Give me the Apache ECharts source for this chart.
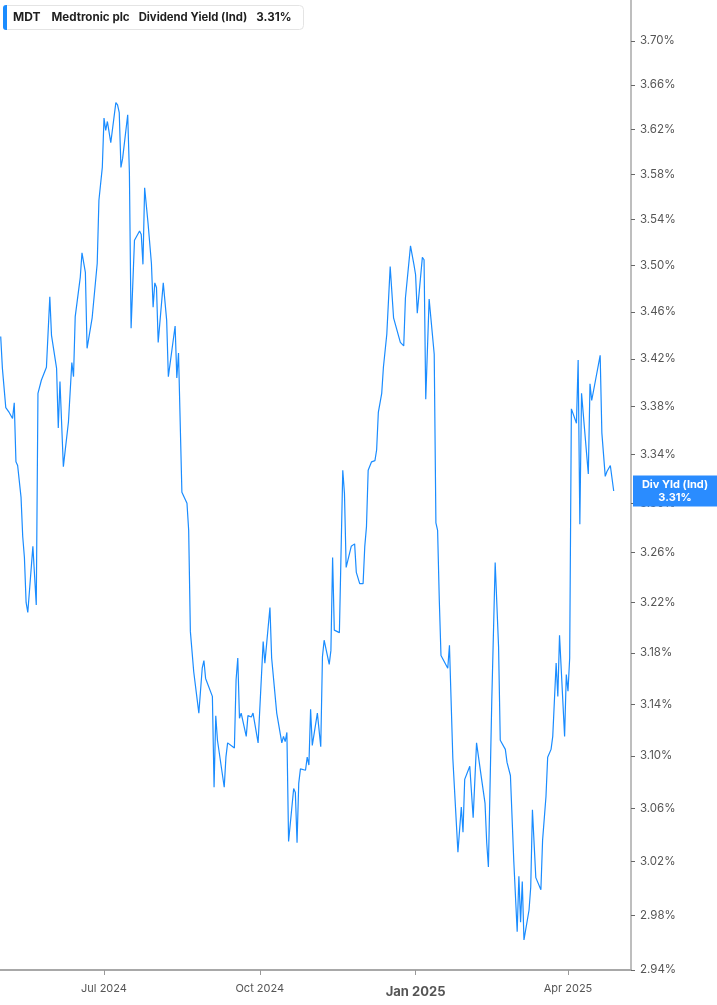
<!DOCTYPE html>
<html lang="en">

<head>
    <meta http-equiv="Content-Type" content="text/html; charset=utf-8" />
    <title>MDT Dividend Yield</title>
    <style>
        html,
        body,
        #myChart {
            width: 100%;
            height: 100%;
            margin: 0;
            padding: 0;
            overflow: hidden;
            background: #fff;
        }
    </style>
</head>

<body>
    <div id="myChart"></div>
    <script src="https://cdn.jsdelivr.net/npm/echarts@6/dist/echarts.min.js"></script>
    <script>
        // dividend yield (ind), %
        var dates = [
            '2024-05-01', '2024-05-02', '2024-05-03', '2024-05-04', '2024-05-06', '2024-05-07', '2024-05-08', '2024-05-09',
            '2024-05-10', '2024-05-11', '2024-05-13', '2024-05-14', '2024-05-15', '2024-05-16', '2024-05-17', '2024-05-20',
            '2024-05-22', '2024-05-23', '2024-05-25', '2024-05-28', '2024-05-30', '2024-05-31', '2024-06-03', '2024-06-04',
            '2024-06-05', '2024-06-06', '2024-06-07', '2024-06-10', '2024-06-12', '2024-06-13', '2024-06-14', '2024-06-17',
            '2024-06-18', '2024-06-20', '2024-06-21', '2024-06-24', '2024-06-27', '2024-06-28', '2024-06-30', '2024-07-01',
            '2024-07-02', '2024-07-03', '2024-07-05', '2024-07-08', '2024-07-09', '2024-07-10', '2024-07-11', '2024-07-12',
            '2024-07-15', '2024-07-16', '2024-07-17', '2024-07-18', '2024-07-19', '2024-07-22', '2024-07-23', '2024-07-24',
            '2024-07-25', '2024-07-27', '2024-07-29', '2024-07-30', '2024-07-31', '2024-08-01', '2024-08-02', '2024-08-05',
            '2024-08-07', '2024-08-08', '2024-08-12', '2024-08-13', '2024-08-14', '2024-08-16', '2024-08-19', '2024-08-20',
            '2024-08-21', '2024-08-23', '2024-08-26', '2024-08-28', '2024-08-29', '2024-08-30', '2024-09-03', '2024-09-04',
            '2024-09-05', '2024-09-06', '2024-09-10', '2024-09-11', '2024-09-12', '2024-09-16', '2024-09-17', '2024-09-18',
            '2024-09-19', '2024-09-20', '2024-09-23', '2024-09-24', '2024-09-26', '2024-09-27', '2024-09-30', '2024-10-01',
            '2024-10-03', '2024-10-04', '2024-10-07', '2024-10-08', '2024-10-11', '2024-10-14', '2024-10-15', '2024-10-16',
            '2024-10-17', '2024-10-18', '2024-10-21', '2024-10-22', '2024-10-23', '2024-10-24', '2024-10-25', '2024-10-28',
            '2024-10-29', '2024-10-30', '2024-10-31', '2024-11-01', '2024-11-04', '2024-11-06', '2024-11-07', '2024-11-08',
            '2024-11-11', '2024-11-12', '2024-11-13', '2024-11-14', '2024-11-17', '2024-11-19', '2024-11-20', '2024-11-21',
            '2024-11-24', '2024-11-26', '2024-11-27', '2024-11-29', '2024-12-01', '2024-12-02', '2024-12-03', '2024-12-04',
            '2024-12-06', '2024-12-08', '2024-12-09', '2024-12-10', '2024-12-12', '2024-12-13', '2024-12-15', '2024-12-16',
            '2024-12-17', '2024-12-18', '2024-12-19', '2024-12-23', '2024-12-25', '2024-12-26', '2024-12-29', '2024-12-31',
            '2025-01-01', '2025-01-02', '2025-01-05', '2025-01-06', '2025-01-07', '2025-01-09', '2025-01-12', '2025-01-13',
            '2025-01-14', '2025-01-15', '2025-01-16', '2025-01-20', '2025-01-21', '2025-01-23', '2025-01-26', '2025-01-28',
            '2025-01-29', '2025-01-30', '2025-02-02', '2025-02-04', '2025-02-06', '2025-02-09', '2025-02-11', '2025-02-12',
            '2025-02-13', '2025-02-15', '2025-02-17', '2025-02-19', '2025-02-20', '2025-02-23', '2025-02-24', '2025-02-26',
            '2025-02-28', '2025-03-02', '2025-03-03', '2025-03-04', '2025-03-05', '2025-03-06', '2025-03-09', '2025-03-10',
            '2025-03-11', '2025-03-13', '2025-03-16', '2025-03-17', '2025-03-19', '2025-03-20', '2025-03-22', '2025-03-23',
            '2025-03-25', '2025-03-26', '2025-03-27', '2025-03-30', '2025-03-31', '2025-04-01', '2025-04-02', '2025-04-03',
            '2025-04-06', '2025-04-07', '2025-04-08', '2025-04-09', '2025-04-13', '2025-04-14', '2025-04-15', '2025-04-20',
            '2025-04-21', '2025-04-23', '2025-04-24', '2025-04-26', '2025-04-28'
        ];
        var yieldPct = [
            3.439, 3.412, 3.411, 3.379, 3.375, 3.375, 3.370, 3.383,
            3.334, 3.331, 3.305, 3.273, 3.256, 3.220, 3.212, 3.265,
            3.218, 3.391, 3.402, 3.413, 3.473, 3.440, 3.412, 3.362,
            3.401, 3.400, 3.330, 3.367, 3.417, 3.405, 3.456, 3.490,
            3.511, 3.494, 3.429, 3.455, 3.502, 3.557, 3.586, 3.630,
            3.619, 3.627, 3.608, 3.644, 3.642, 3.635, 3.586, 3.594,
            3.633, 3.581, 3.446, 3.447, 3.522, 3.530, 3.527, 3.501,
            3.568, 3.537, 3.502, 3.464, 3.485, 3.481, 3.434, 3.485,
            3.453, 3.405, 3.448, 3.404, 3.425, 3.309, 3.300, 3.278,
            3.197, 3.165, 3.133, 3.168, 3.174, 3.160, 3.146, 3.076,
            3.131, 3.112, 3.076, 3.099, 3.110, 3.106, 3.159, 3.176,
            3.129, 3.133, 3.115, 3.131, 3.130, 3.133, 3.110, 3.110,
            3.189, 3.172, 3.216, 3.176, 3.133, 3.110, 3.115, 3.111,
            3.118, 3.035, 3.075, 3.072, 3.034, 3.079, 3.090, 3.089,
            3.099, 3.093, 3.136, 3.108, 3.133, 3.107, 3.177, 3.190,
            3.171, 3.182, 3.256, 3.198, 3.196, 3.327, 3.308, 3.248,
            3.265, 3.267, 3.244, 3.235, 3.235, 3.265, 3.281, 3.327,
            3.334, 3.335, 3.344, 3.375, 3.391, 3.413, 3.441, 3.441,
            3.499, 3.500, 3.455, 3.434, 3.431, 3.472, 3.517, 3.501,
            3.492, 3.459, 3.507, 3.505, 3.386, 3.471, 3.424, 3.284,
            3.278, 3.222, 3.178, 3.168, 3.186, 3.098, 3.027, 3.061,
            3.042, 3.082, 3.092, 3.053, 3.110, 3.082, 3.064, 3.034,
            3.016, 3.143, 3.252, 3.185, 3.112, 3.105, 3.095, 3.085,
            3.020, 2.968, 3.009, 2.975, 3.005, 2.962, 2.984, 3.001,
            3.059, 3.008, 2.999, 3.036, 3.069, 3.099, 3.105, 3.115,
            3.172, 3.146, 3.194, 3.115, 3.163, 3.150, 3.176, 3.378,
            3.366, 3.419, 3.283, 3.391, 3.324, 3.399, 3.385, 3.423,
            3.358, 3.322, 3.326, 3.331, 3.310
        ];
        var yTicks = [2.94, 2.98, 3.02, 3.06, 3.10, 3.14, 3.18, 3.22, 3.26, 3.30,
            3.34, 3.38, 3.42, 3.46, 3.50, 3.54, 3.58, 3.62, 3.66, 3.70];
        var xTicks = ['2024-07-01', '2024-10-01', '2025-01-01', '2025-04-01'];
        var lastValue = 3.31;
        var monthNames = ['Jan', 'Feb', 'Mar', 'Apr', 'May', 'Jun', 'Jul', 'Aug', 'Sep', 'Oct', 'Nov', 'Dec'];

        function toTime(s) {
            var p = s.split(/[- :]/);
            return Date.UTC(+p[0], +p[1] - 1, +p[2], +(p[3] || 0));
        }

        var seriesData = dates.map(function (d, i) {
            return [toTime(d), yieldPct[i]];
        });
        var xTickTimes = xTicks.map(toTime);

        var myChart = echarts.init(document.getElementById('myChart'));
        var option = {
            animation: false,
            backgroundColor: '#fff',
            textStyle: { fontFamily: 'Inter, Roboto, sans-serif' },
            title: {
                left: 3,
                top: 5,
                padding: [0, 12, 0, 0],
                backgroundColor: '#fff',
                borderColor: '#e4e4e4',
                borderWidth: 1,
                borderRadius: 4,
                text: '{bar|}{t|MDT}{n|Medtronic plc}{m|Dividend Yield (Ind)}{v|' + lastValue.toFixed(2) + '%}',
                textStyle: {
                    rich: {
                        bar: { width: 4, height: 25, backgroundColor: '#1a8cff', borderRadius: [3, 0, 0, 3] },
                        t: { fontSize: 12, fontWeight: 'bold', color: '#1f1f1f', padding: [0, 0, 0, 6], fontFamily: 'Inter' },
                        n: { fontSize: 11.6, fontWeight: 'bold', color: '#1f1f1f', padding: [0, 0, 0, 11], fontFamily: 'Inter' },
                        m: { fontSize: 11.3, color: '#1f1f1f', padding: [0, 0, 0, 9], fontFamily: 'Inter' },
                        v: { fontSize: 11.6, fontWeight: 'bold', color: '#1f1f1f', padding: [0, 0, 0, 9], fontFamily: 'Inter' }
                    }
                }
            },
            grid: {
                left: 0,
                right: 86,
                top: 0,
                bottom: 35,
                containLabel: false
            },
            xAxis: {
                type: 'value',
                min: toTime('2024-04-30 14'),
                max: toTime('2025-05-08 05'),
                axisLine: { show: true, lineStyle: { color: '#a8a8a8', width: 2 } },
                axisTick: { show: true, customValues: xTickTimes, length: 5, lineStyle: { color: '#999' } },
                splitLine: { show: false },
                axisLabel: {
                    customValues: xTickTimes,
                    color: '#555',
                    fontSize: 11,
                    margin: 13,
                    formatter: function (v) {
                        var d = new Date(v);
                        var s = monthNames[d.getUTCMonth()] + ' ' + d.getUTCFullYear();
                        return d.getUTCMonth() === 0 ? '{b|' + s + '}' : s;
                    },
                    rich: {
                        b: { fontSize: 13, fontWeight: 'bold', color: '#555', padding: [3, 0, 0, 0] }
                    }
                }
            },
            yAxis: {
                type: 'log',
                position: 'right',
                min: 2.94,
                max: 3.7377,
                axisLine: { show: true, lineStyle: { color: '#a8a8a8', width: 1.5 } },
                axisTick: { show: true, customValues: yTicks, length: 4, lineStyle: { color: '#666' } },
                splitLine: { show: false },
                axisLabel: {
                    customValues: yTicks,
                    color: '#555',
                    fontSize: 11.5,
                    margin: 9,
                    formatter: function (v) {
                        return v.toFixed(2) + '%';
                    }
                }
            },
            series: [{
                type: 'line',
                data: seriesData,
                showSymbol: false,
                symbol: 'none',
                lineStyle: { color: '#1a8cff', width: 1.2 },
                markLine: {
                    silent: true,
                    symbol: 'none',
                    lineStyle: { color: 'transparent', width: 0 },
                    data: [{ yAxis: lastValue }],
                    label: {
                        position: 'end',
                        distance: 2,
                        formatter: '{a|Div Yld (Ind)}\n{a|' + lastValue.toFixed(2) + '%}',
                        backgroundColor: '#2a8cff',
                        padding: [3, 0, 2, 0],
                        rich: {
                            a: {
                                width: 84,
                                align: 'center',
                                color: '#fff',
                                fontSize: 11,
                                fontWeight: 'bold',
                                lineHeight: 13
                            }
                        }
                    }
                }
            }]
        };
        myChart.setOption(option);
    </script>
</body>

</html>
